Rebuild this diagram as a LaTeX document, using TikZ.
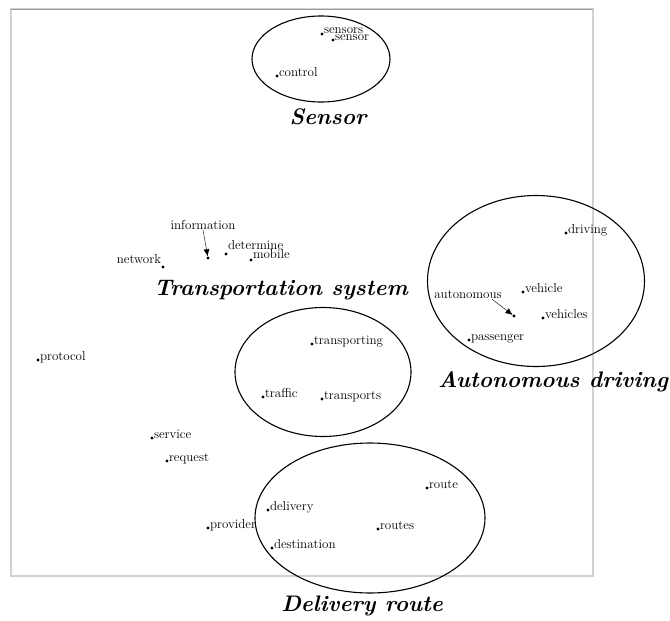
\documentclass[tikz,border=0pt]{standalone}
\usetikzlibrary{shapes.geometric,arrows.meta}
\begin{document}
\begin{tikzpicture}[x=1pt,y=-1pt,
dot/.style={circle,fill,inner sep=0pt,minimum size=3.2pt},
word/.style={font=\fontsize{13}{15}\selectfont,inner sep=0pt},
title/.style={font=\fontsize{22.5}{26}\selectfont\bfseries\itshape,inner sep=0pt},
cluster/.style={ellipse,draw,line width=1.1pt,inner sep=0pt}
]

\tikzstyle{pointer} = [-{Latex[length=7pt,width=6pt]},thin]

  \useasboundingbox (0,0) rectangle (670,621);
  \draw[gray!35,line width=1.5pt] (11,9) rectangle (593,576);
  \draw[gray!80,line width=1pt] (11,9) -- (593,9);

  \node (sensorcl)   [cluster,minimum width=138,minimum height=86]   at (321,59)  {};
  \node (transcl)    [cluster,minimum width=176,minimum height=129]  at (323,372) {};
  \node (autocl)     [cluster,minimum width=217,minimum height=171]  at (536,281) {};
  \node (deliverycl) [cluster,minimum width=230,minimum height=150]  at (370,518) {};

  \node (sensortitle)   [title] at (328,117) {Sensor};
  \node (transtitle)    [title] at (281,290) {Transportation system};
  \node (autotitle)     [title] at (553,382) {Autonomous driving};
  \node (deliverytitle) [title] at (362,606) {Delivery route};

  \node (sensors)      [dot,label={[word,anchor=base west]0:sensors}]      at (322,34)  {};
  \node (sensor)       [dot,label={[word,anchor=base west]0:sensor}]       at (333,40)  {};
  \node (control)      [dot,label={[word,anchor=base west]0:control}]      at (277,76)  {};

  \node (infodot)      [dot]                                                at (208,258) {};
  \node (information)  [word]                                               at (203,225) {information};
  \node (determine)    [dot,label={[word,anchor=base west,yshift=5pt]0:determine}] at (226,254) {};
  \node (mobile)       [dot,label={[word,anchor=base west,yshift=2pt]0:mobile}]    at (251,260) {};
  \node (network)      [dot,label={[word,anchor=base east,yshift=4pt]180:network}] at (163,267) {};

  \node (driving)      [dot,label={[word,anchor=base west]0:driving}]      at (566,233) {};
  \node (vehicle)      [dot,label={[word,anchor=base west]0:vehicle}]      at (523,292) {};
  \node (autodot)      [dot]                                                at (514,316) {};
  \node (autonomous)   [word]                                               at (468,295) {autonomous};
  \node (vehicles)     [dot,label={[word,anchor=base west]0:vehicles}]     at (543,318) {};
  \node (passenger)    [dot,label={[word,anchor=base west]0:passenger}]    at (469,340) {};

  \node (protocol)     [dot,label={[word,anchor=base west]0:protocol}]     at (38,360)  {};
  \node (transporting) [dot,label={[word,anchor=base west]0:transporting}] at (312,344) {};
  \node (traffic)      [dot,label={[word,anchor=base west]0:traffic}]      at (263,397) {};
  \node (transports)   [dot,label={[word,anchor=base west]0:transports}]   at (322,399) {};
  \node (service)      [dot,label={[word,anchor=base west]0:service}]      at (152,438) {};
  \node (request)      [dot,label={[word,anchor=base west]0:request}]      at (167,461) {};

  \node (route)        [dot,label={[word,anchor=base west]0:route}]        at (427,488) {};
  \node (delivery)     [dot,label={[word,anchor=base west]0:delivery}]     at (268,510) {};
  \node (provider)     [dot,label={[word,anchor=base west]0:provider}]     at (208,528) {};
  \node (routes)       [dot,label={[word,anchor=base west]0:routes}]       at (378,529) {};
  \node (destination)  [dot,label={[word,anchor=base west]0:destination}]  at (272,548) {};

\path[pointer] (information.south) edge (infodot);
\path[pointer] (autonomous.-10) edge (autodot);

\end{tikzpicture}
\end{document}
